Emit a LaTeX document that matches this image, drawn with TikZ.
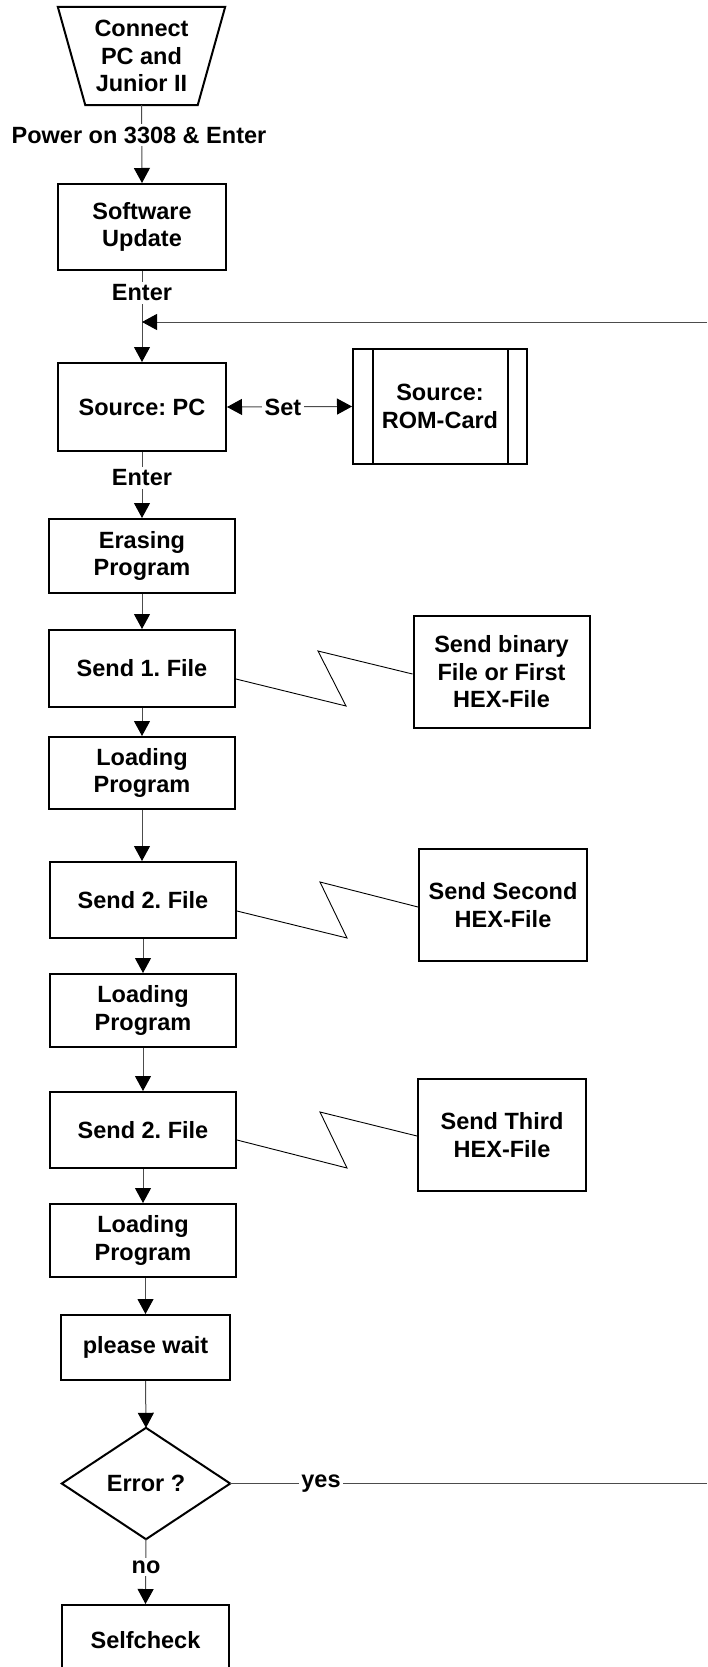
\documentclass[tikz,border=0pt]{standalone}
\usepackage{fontspec}
\setmainfont{Liberation Sans}
\usetikzlibrary{arrows.meta,calc}
\frenchspacing
\begin{document}
\begin{tikzpicture}[x=1pt,y=-1pt,
  tf/.style={font=\bfseries\fontsize{23.5}{27.5}\selectfont, align=center, inner sep=0pt},
  box/.style={tf, draw=black, line width=2pt, rectangle},
  shapeline/.style={draw=black, line width=2pt, line join=miter},
  conn/.style={draw=black!70, line width=1pt, -{Triangle[length=15pt,width=16pt,color=black]}},
  plain/.style={draw=black!70, line width=1pt},
  zig/.style={draw=black, line width=0.9pt},
  lbl/.style={tf, fill=white, inner sep=2.5pt}]
\useasboundingbox (0,0) rectangle (707,1667);
\fill[white] (0,0) rectangle (707,1667);

% nodes
\node[tf, minimum width=167, minimum height=98] (start) at (141.5,56) {Connect\\PC and\\Junior II};
\draw[shapeline] (start.north west) -- (start.north east) -- ($(start.south east)+(-27.5,0)$) -- ($(start.south west)+(27.5,0)$) -- cycle;

\node[box, minimum width=168, minimum height=86] (sw) at (142,227) {Software\\Update};
\node[box, minimum width=168, minimum height=88] (pc) at (142,407) {Source: PC};
\node[box, minimum width=174, minimum height=115] (rom) at (440,406.5) {Source:\\ROM-Card};
\draw[shapeline] ($(rom.north west)+(21,0)$) -- ($(rom.south west)+(21,0)$);
\draw[shapeline] ($(rom.north east)+(-20,0)$) -- ($(rom.south east)+(-20,0)$);

\node[box, minimum width=186, minimum height=74] (erase) at (142,556) {Erasing\\Program};
\node[box, minimum width=186, minimum height=77] (send1) at (142,668.5) {Send 1. File};
\node[box, minimum width=176, minimum height=112] (fileA) at (501.5,672) {Send binary\\File or First\\HEX-File};
\node[box, minimum width=186, minimum height=72] (load1) at (142,773) {Loading\\Program};

\node[box, minimum width=186, minimum height=76] (send2) at (143,900) {Send 2. File};
\node[box, minimum width=168, minimum height=112] (fileB) at (503,905) {Send Second\\HEX-File};
\node[box, minimum width=186, minimum height=73] (load2) at (143,1010.5) {Loading\\Program};

\node[box, minimum width=186, minimum height=76] (send3) at (143,1130) {Send 2. File};
\node[box, minimum width=168, minimum height=112] (fileC) at (502,1135) {Send Third\\HEX-File};
\node[box, minimum width=186, minimum height=73] (load3) at (143,1240.5) {Loading\\Program};

\node[box, minimum width=169, minimum height=65] (wait) at (145.5,1347.5) {please wait};
\node[tf, minimum width=168, minimum height=111] (err) at (146,1483.5) {Error ?};
\draw[shapeline] (err.north) -- (err.east) -- (err.south) -- (err.west) -- cycle;
\node[box, minimum width=167, minimum height=70] (self) at (145.5,1640) {Selfcheck};

% connectors
\draw[conn] (start.south) -- (sw.north);
\node[lbl] (l1) at (139,135) {Power on 3308 \& Enter};
\draw[conn] (sw.south) -- (pc.north);
\node[lbl] (l2) at (142,293) {Enter};
\coordinate (fbR) at (707,322);
\draw[conn] (fbR) -- (fbR -| pc.north);
\draw[plain, {Triangle[length=15pt,width=16pt,color=black]}-{Triangle[length=15pt,width=16pt,color=black]}] (pc.east) -- (rom.west);
\node[lbl] (l3) at (283,407) {Set};
\draw[conn] (pc.south) -- (pc.south |- erase.north);
\node[lbl] (l4) at (142,478) {Enter};
\draw[conn] (erase.south) -- (send1.north);
\draw[conn] (send1.south) -- (load1.north);
\draw[conn] (load1.south) -- (load1.south |- send2.north);
\draw[conn] (send2.south) -- (load2.north);
\draw[conn] (load2.south) -- (send3.north);
\draw[conn] (send3.south) -- (load3.north);
\draw[conn] (wait.north |- load3.south) -- (wait.north);
\draw[conn] (wait.south) -- (err.north);
\draw[conn] (err.south) -- (self.north);
\node[lbl] (l5) at (146,1567) {no};
\coordinate (yesR) at (707,1483.5);
\draw[plain] (err.east) -- (yesR);
\node[lbl] (l6) at (321,1483.5) {yes};

% zigzag links
\coordinate (z1a) at (346,706);
\coordinate (z1b) at (318,651);
\draw[zig] ($(send1.east)+(0,10.5)$) -- (z1a) -- (z1b) -- ($(fileA.west)+(0,2)$);
\coordinate (z2a) at (347,938);
\coordinate (z2b) at (320,882);
\draw[zig] ($(send2.east)+(0,11)$) -- (z2a) -- (z2b) -- ($(fileB.west)+(0,2)$);
\coordinate (z3a) at (347,1168);
\coordinate (z3b) at (320,1112);
\draw[zig] ($(send3.east)+(0,10)$) -- (z3a) -- (z3b) -- ($(fileC.west)+(0,1)$);
\end{tikzpicture}
\end{document}
